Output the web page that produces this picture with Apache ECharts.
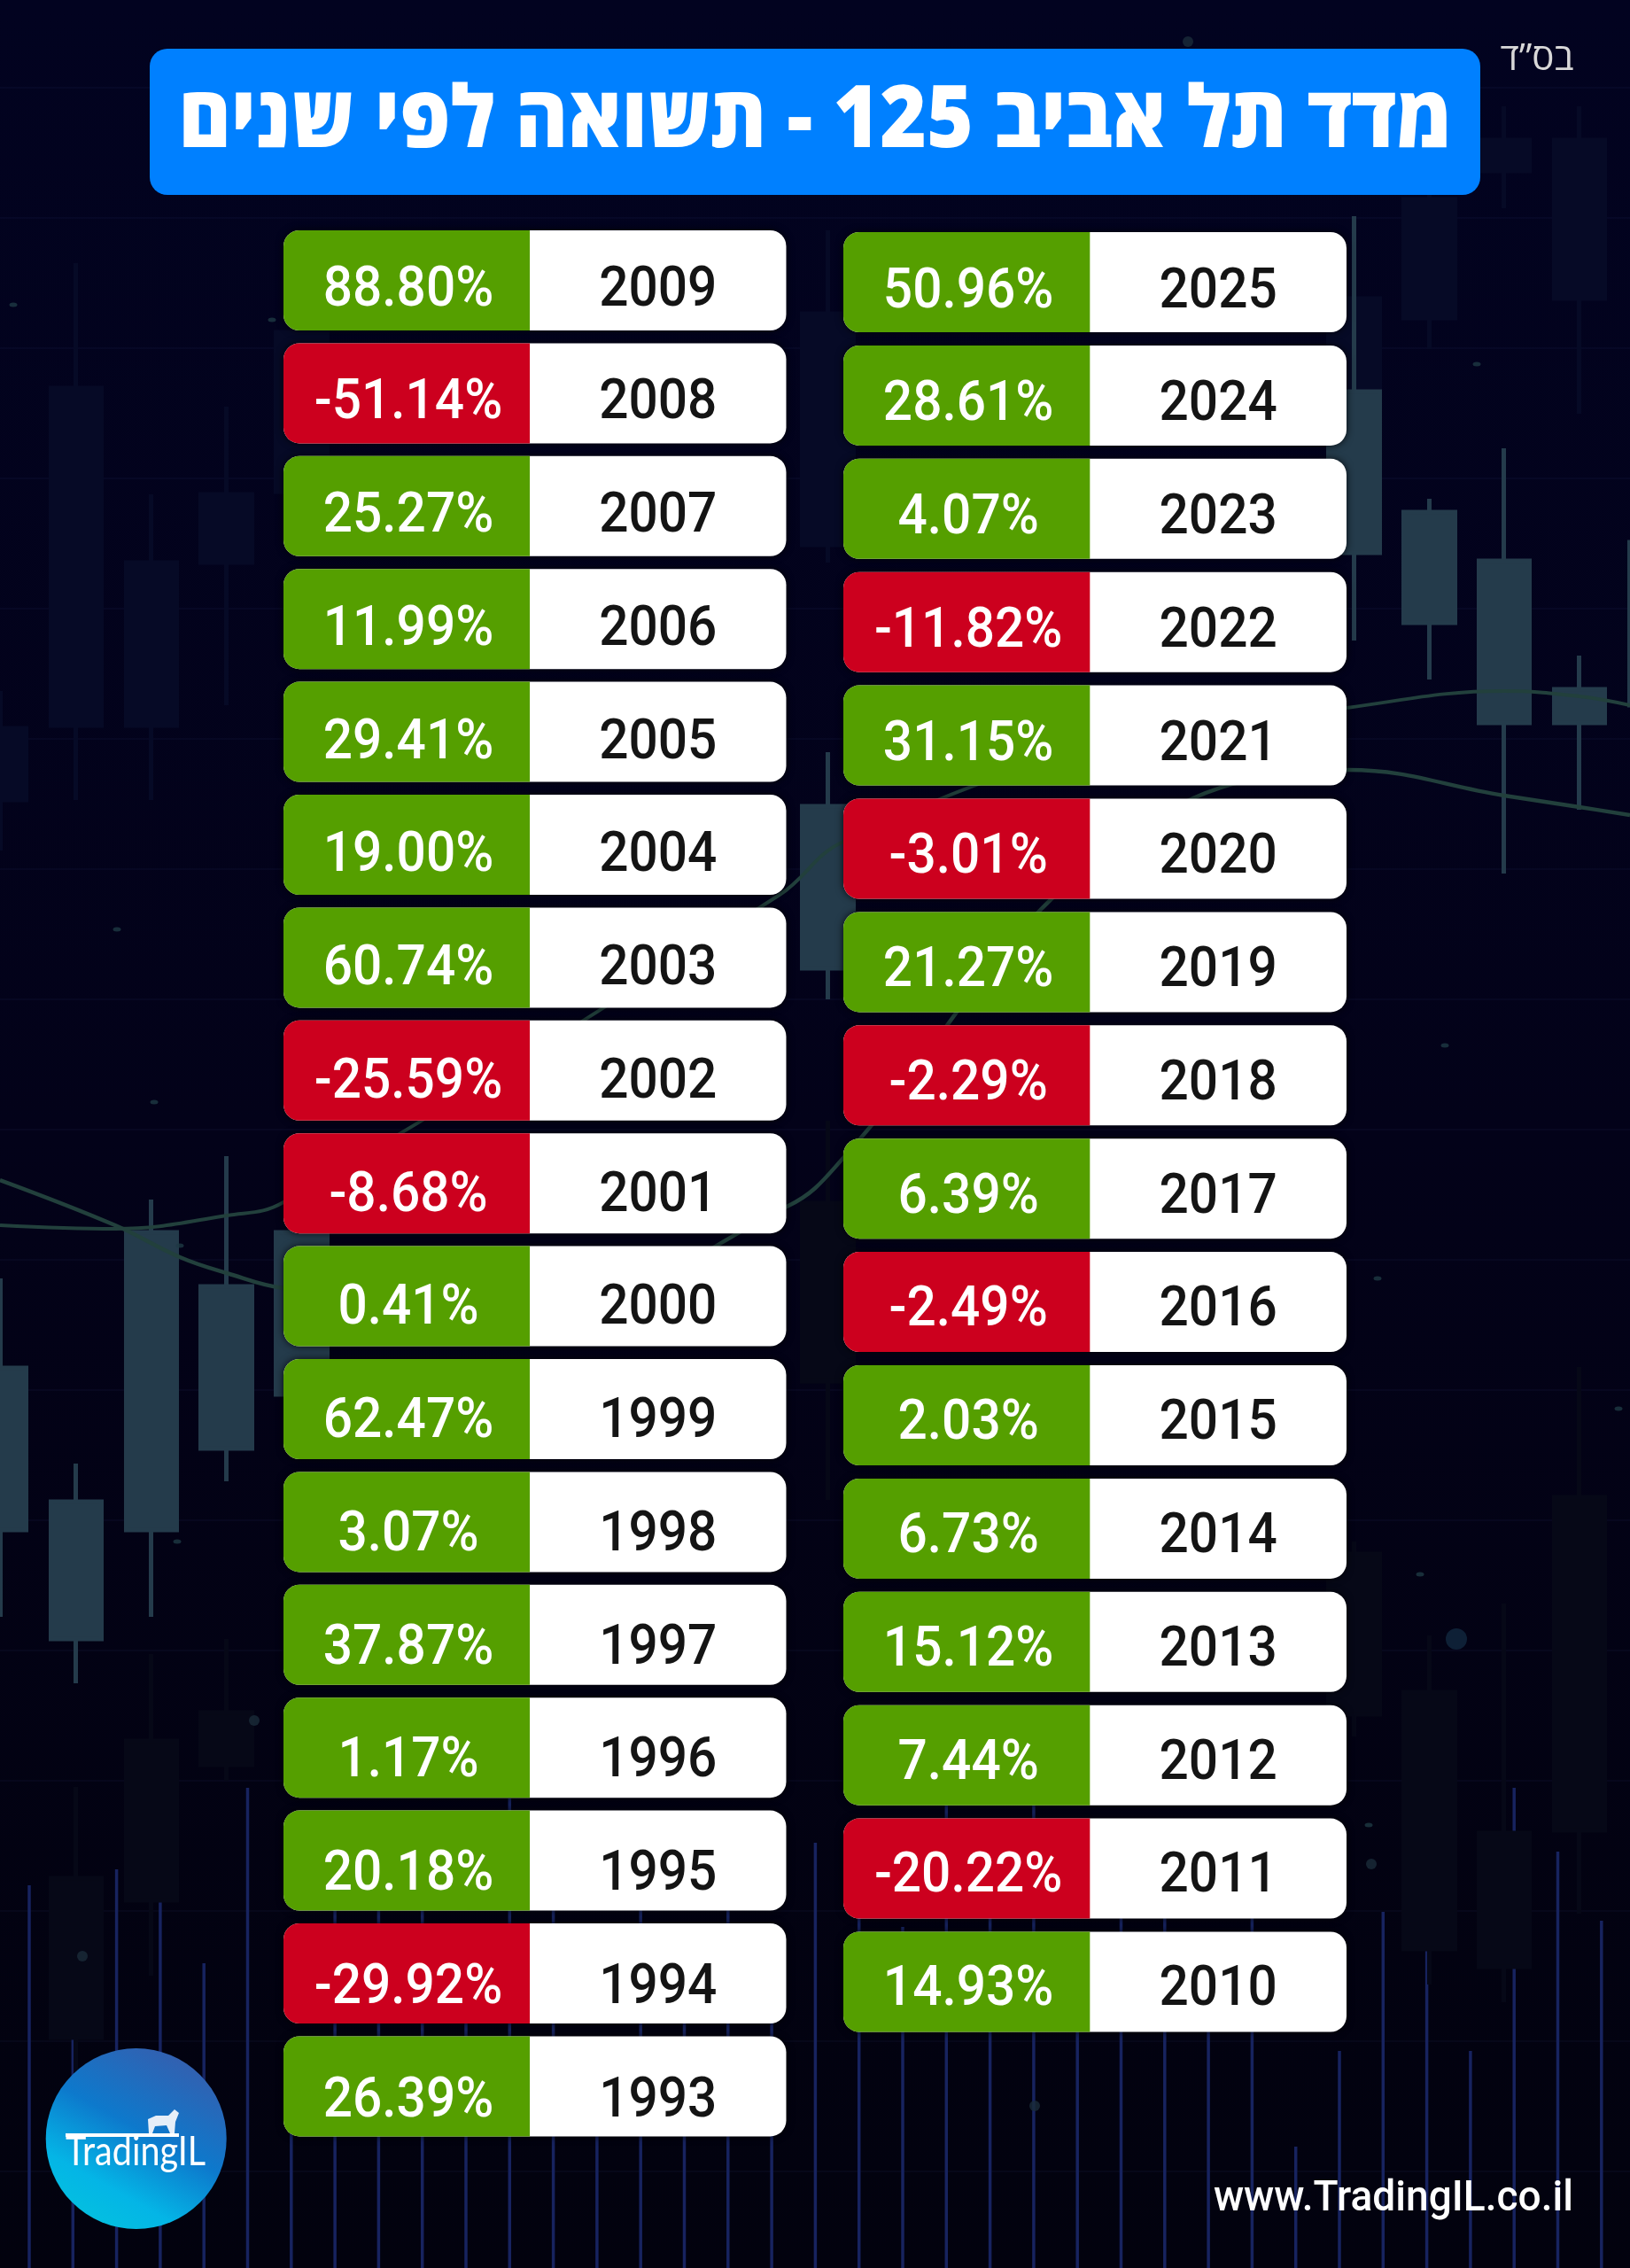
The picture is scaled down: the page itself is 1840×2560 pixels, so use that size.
<!DOCTYPE html>
<html lang="he">
<head>
<meta charset="utf-8">
<title>TA-125</title>
<script src="https://cdn.jsdelivr.net/npm/echarts@6/dist/echarts.min.js"></script>
<style>
    html, body { margin: 0; padding: 0; background: #02021a; }
    #main { width: 1840px; height: 2560px; }
</style>
</head>
<body>
<div id="main"></div>
<script>
// table values
var yearsLeft = ['2009', '2008', '2007', '2006', '2005', '2004', '2003', '2002', '2001', '2000', '1999', '1998', '1997', '1996', '1995', '1994', '1993'];
var returnsLeft = [88.80, -51.14, 25.27, 11.99, 29.41, 19.00, 60.74, -25.59, -8.68, 0.41, 62.47, 3.07, 37.87, 1.17, 20.18, -29.92, 26.39];
var yearsRight = ['2025', '2024', '2023', '2022', '2021', '2020', '2019', '2018', '2017', '2016', '2015', '2014', '2013', '2012', '2011', '2010'];
var returnsRight = [50.96, 28.61, 4.07, -11.82, 31.15, -3.01, 21.27, -2.29, 6.39, -2.49, 2.03, 6.73, 15.12, 7.44, -20.22, 14.93];

var titleText = 'מדד תל אביב 125 - תשואה לפי שנים';
var blessingText = 'בס”ד';
var siteText = 'www.TradingIL.co.il';
var logoText = 'TradingIL';

// background candles, slot -> [open, close, low, high]
var brightCandles = {
    0: [83.3, 101.6, 73.5, 111.7],
    1: [71, 86.5, 66, 90.8],
    2: [83.3, 116.9, 73.5, 120.6],
    3: [92.5, 110.8, 88.8, 125.5],
    4: [98.6, 116.9, 92, 120],
    11: [146.7, 165, 143.2, 171.1],
    18: [193.6, 211.8, 183.7, 231.6],
    19: [185.7, 198.2, 179.3, 199.7],
    20: [174.4, 192.7, 157.4, 205.4],
    21: [174.4, 178.2, 164.6, 182],
    22: [176.4, 194.8, 170, 200]
};
var faintTopCandles = {
    0: [165.7, 173.8, 160, 178],
    1: [174.1, 212.2, 165.7, 226.3],
    2: [174.1, 192.5, 165.7, 200.2],
    3: [192.5, 200.2, 176.4, 210.1],
    4: [200.5, 218.5, 195, 222],
    11: [194.5, 220.6, 192.5, 230],
    18: [211.8, 222.3, 211.8, 231.6],
    19: [220.1, 233.5, 216.6, 235],
    20: [236.7, 240.2, 232.5, 244],
    21: [222.3, 240.2, 209.3, 244]
};
var faintLowCandles = {
    1: [26, 44, 22, 54.3],
    2: [41.5, 59.5, 33, 69.3],
    3: [56.8, 62.7, 55, 71],
    11: [100.1, 120.2, 86.7, 129.5],
    18: [62.5, 80.6, 60, 82],
    19: [36, 65, 32, 71.4],
    20: [34, 49.1, 30, 75],
    21: [49.4, 87, 40, 101.7]
};
var volumes = [43.2, 31, 45, 54.2, 34.4, 54.2, 21, 46, 46, 46, 33, 53, 46, 21, 46, 33, 46, 33, 48, 46, 38.5, 57, 44, 56, 32, 46, 46, 32, 44, 13.7, 24.5, 40.2, 50, 24.5, 54.2, 47, 39.2];
var maFast = [[0, 122.8], [13, 117.7], [20.3, 114.1], [25.6, 112.3], [32, 110.6], [60, 108], [89, 119.9], [95.2, 125.3], [125, 160], [152.2, 169.1], [169.8, 166.2], [178.3, 164.9], [184, 164]];
var maSlow = [[0, 117.7], [13, 117.3], [25.6, 118.8], [32, 120.3], [88, 155], [95.2, 161], [125, 172], [152, 176.1], [169.8, 178], [178.3, 177.4], [184, 176.4]];
var smallDots = [[1.5, 221.6], [13.2, 151.1], [30.7, 219.9], [17.4, 131.6], [20, 82], [20.3, 115.4], [166.7, 214.9], [163.1, 138], [155.5, 111.7], [182.7, 97], [160.3, 78.3], [154.5, 50]];
var midDots = [[134.1, 251.3], [28.7, 61.8], [9.3, 35.2], [116.8, 18.3], [154.8, 45.6]];
var largeDots = [[164.4, 71]];

var SLOTS = 23;
var SPLIT = 0.49;      // where the coloured half of a row ends
var CELL_H = 113;
var CELL_R = 18;
var UP = '#559f00';
var DOWN = '#cc001e';
var CELL_FONT = 'Roboto, "Noto Sans", sans-serif';
var HEB_FONT = '"Open Sans", "Liberation Sans", sans-serif';

function slotData(rows) {
    var out = [];
    for (var i = 0; i < SLOTS; i++) {
        out.push(rows[i] || ['-', '-', '-', '-']);
    }
    return out;
}

function slotNames(n) {
    var out = [];
    for (var i = 0; i < n; i++) {
        out.push(String(i));
    }
    return out;
}

function rowData(returns) {
    return returns.map(function (r, i) {
        return [i, r];
    });
}

// one table row: coloured return cell + white year cell
// the text rows run on a slightly different pitch than the cells, hence drift
function renderRow(years, drift) {
    return function (params, api) {
        var row = api.value(0);
        var ret = api.value(1);
        var start = api.coord([0, row]);
        var mid = api.coord([SPLIT, row]);
        var end = api.coord([1, row]);
        var y = start[1] - CELL_H / 2;
        var textY = start[1] + 12.3 + row * drift;
        return {
            type: 'group',
            children: [{
                type: 'rect',
                shape: { x: start[0], y: y, width: end[0] - start[0], height: CELL_H, r: CELL_R },
                style: { fill: '#ffffff', shadowBlur: 8, shadowColor: 'rgba(0,0,0,0.8)' }
            }, {
                type: 'rect',
                shape: { x: start[0], y: y, width: mid[0] - start[0], height: CELL_H, r: [CELL_R, 0, 0, CELL_R] },
                style: { fill: ret < 0 ? DOWN : UP }
            }, {
                type: 'text',
                x: (start[0] + mid[0]) / 2 + 2,
                y: textY,
                scaleX: 0.93,
                style: { text: ret.toFixed(2) + '%', fill: '#ffffff', fontSize: 63, fontWeight: 500, fontFamily: CELL_FONT, align: 'center', verticalAlign: 'middle' }
            }, {
                type: 'text',
                x: (mid[0] + end[0]) / 2,
                y: textY,
                scaleX: 0.93,
                style: { text: years[row], fill: '#141414', fontSize: 63, fontWeight: 500, fontFamily: CELL_FONT, align: 'center', verticalAlign: 'middle' }
            }]
        };
    };
}

function candleSeries(name, rows, color) {
    return {
        name: name,
        type: 'candlestick',
        xAxisIndex: 0,
        yAxisIndex: 0,
        barWidth: 58,
        silent: true,
        data: slotData(rows),
        itemStyle: { color: color, color0: color, borderColor: color, borderColor0: color, borderWidth: 5 }
    };
}

function dotSeries(name, rows, size, color) {
    return {
        name: name,
        type: 'scatter',
        xAxisIndex: 1,
        yAxisIndex: 1,
        silent: true,
        symbol: 'circle',
        symbolSize: size,
        data: rows,
        itemStyle: { color: color }
    };
}

function hiddenPrice(gridIndex) {
    return { type: 'value', gridIndex: gridIndex, min: 0, max: 256, show: false };
}

var option = {
    animation: false,
    backgroundColor: new echarts.graphic.LinearGradient(0, 0, 0, 1, [
        { offset: 0, color: '#020320' },
        { offset: 0.5, color: '#030219' },
        { offset: 1, color: '#02020e' }
    ]),
    grid: [
        { left: -41.3, top: 0, width: 84.85 * SLOTS, height: 2560, outerBoundsMode: 'none' },
        { left: 0, top: 0, width: 1840, height: 2560, outerBoundsMode: 'none' },
        { left: 8.35, top: 0, width: 49.3 * (volumes.length + 1), height: 2560, outerBoundsMode: 'none' },
        { left: 320, top: 252.8, width: 567.5, height: 127.4 * yearsLeft.length, outerBoundsMode: 'none' },
        { left: 952, top: 254.55, width: 568, height: 127.9 * yearsRight.length, outerBoundsMode: 'none' },
        { left: 0, top: 99, width: 1840, height: 147 * 16, outerBoundsMode: 'none' }
    ],
    xAxis: [
        { type: 'category', gridIndex: 0, data: slotNames(SLOTS), show: false },
        { type: 'value', gridIndex: 1, min: 0, max: 184, show: false },
        { type: 'category', gridIndex: 2, data: slotNames(volumes.length + 1), show: false },
        { type: 'value', gridIndex: 3, min: 0, max: 1, show: false },
        { type: 'value', gridIndex: 4, min: 0, max: 1, show: false },
        { type: 'value', gridIndex: 5, min: 0, max: 1, show: false }
    ],
    yAxis: [
        hiddenPrice(0),
        hiddenPrice(1),
        hiddenPrice(2),
        { type: 'category', gridIndex: 3, inverse: true, data: yearsLeft, show: false },
        { type: 'category', gridIndex: 4, inverse: true, data: yearsRight, show: false },
        {
            type: 'value', gridIndex: 5, min: 0, max: 16, interval: 1,
            axisLabel: { show: false }, axisLine: { show: false }, axisTick: { show: false },
            splitLine: { show: true, lineStyle: { color: 'rgba(40,50,95,0.13)', width: 2 } }
        }
    ],
    series: [
        candleSeries('faintTop', faintTopCandles, '#060a26'),
        candleSeries('faintLow', faintLowCandles, '#060817'),
        candleSeries('bright', brightCandles, '#243b4b'),
        {
            name: 'volume',
            type: 'bar',
            xAxisIndex: 2,
            yAxisIndex: 2,
            barWidth: 3.5,
            silent: true,
            data: volumes,
            itemStyle: { color: '#17235f' }
        },
        {
            name: 'maFast',
            type: 'line',
            xAxisIndex: 1,
            yAxisIndex: 1,
            smooth: 0.4,
            showSymbol: false,
            silent: true,
            data: maFast,
            z: 3,
            lineStyle: { color: '#22403c', width: 4.5 }
        },
        {
            name: 'maSlow',
            type: 'line',
            xAxisIndex: 1,
            yAxisIndex: 1,
            smooth: 0.4,
            showSymbol: false,
            silent: true,
            data: maSlow,
            z: 3,
            lineStyle: { color: '#22403c', width: 4 }
        },
        dotSeries('smallDots', smallDots, [9, 5], '#1e3a44'),
        dotSeries('midDots', midDots, 12, '#1a2c3a'),
        dotSeries('largeDots', largeDots, 24, '#12283e'),
        {
            name: 'returnsLeft',
            type: 'custom',
            xAxisIndex: 3,
            yAxisIndex: 3,
            z: 5,
            clip: false,
            silent: true,
            encode: { y: 0 },
            data: rowData(returnsLeft),
            renderItem: renderRow(yearsLeft, 0.356)
        },
        {
            name: 'returnsRight',
            type: 'custom',
            xAxisIndex: 4,
            yAxisIndex: 4,
            z: 5,
            clip: false,
            silent: true,
            encode: { y: 0 },
            data: rowData(returnsRight),
            renderItem: renderRow(yearsRight, -0.133)
        }
    ],
    graphic: [
        // title banner
        {
            type: 'rect', z: 10, silent: true,
            shape: { x: 169, y: 55, width: 1502, height: 165, r: 20 },
            style: { fill: '#0080ff' }
        },
        {
            type: 'text', z: 11, silent: true, x: 920, y: 138, scaleX: 0.929,
            style: {
                text: titleText, fill: '#ffffff', fontSize: 97, fontWeight: 800, fontFamily: HEB_FONT,
                align: 'center', verticalAlign: 'middle',
                shadowColor: 'rgba(0,40,110,0.85)', shadowBlur: 12, shadowOffsetX: 4, shadowOffsetY: 7
            }
        },
        {
            type: 'text', z: 10, silent: true, x: 1735, y: 67,
            style: { text: blessingText, fill: '#d8d8d8', fontSize: 42, fontFamily: HEB_FONT, align: 'center', verticalAlign: 'middle' }
        },
        // logo
        {
            type: 'circle', z: 10, silent: true,
            shape: { cx: 153.7, cy: 2414, r: 102 },
            style: {
                fill: new echarts.graphic.LinearGradient(0.75, 0.05, 0.25, 0.95, [
                    { offset: 0, color: '#3360b0' },
                    { offset: 0.45, color: '#0d79cc' },
                    { offset: 0.8, color: '#04b5e6' },
                    { offset: 1, color: '#04bfe0' }
                ])
            }
        },
        {
            type: 'rect', z: 11, silent: true,
            shape: { x: 74, y: 2408, width: 128, height: 4 },
            style: { fill: '#ffffff' }
        },
        {
            type: 'polygon', z: 11, silent: true,
            shape: { points: [[167, 2392], [176, 2388], [190, 2388], [197, 2381], [202, 2385], [198, 2395], [197, 2408], [192, 2408], [188, 2399], [175, 2400], [172, 2408], [168, 2408]] },
            style: { fill: '#e6eef8' }
        },
        {
            type: 'text', z: 11, silent: true, x: 74, y: 2429, scaleX: 0.86,
            style: { text: logoText, fill: '#ffffff', fontSize: 46, fontFamily: 'Lato, sans-serif', align: 'left', verticalAlign: 'middle' }
        },
        // site address
        {
            type: 'text', z: 10, silent: true, x: 1776, y: 2483, scaleX: 0.96,
            style: { text: siteText, fill: '#ffffff', fontSize: 48, fontWeight: 500, fontFamily: CELL_FONT, align: 'right', verticalAlign: 'middle' }
        }
    ]
};

var myChart = echarts.init(document.getElementById('main'), null, { renderer: 'canvas' });
myChart.setOption(option);
</script>
</body>
</html>
